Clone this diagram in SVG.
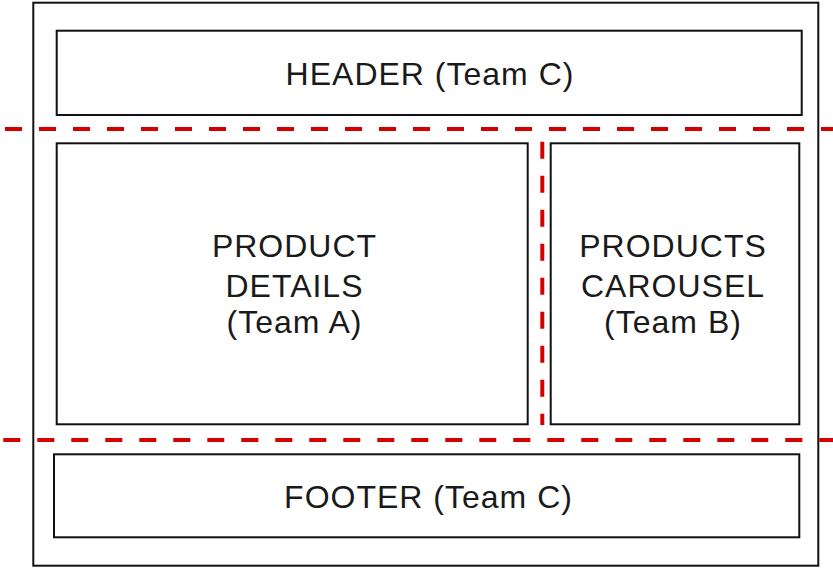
<svg xmlns="http://www.w3.org/2000/svg" width="833" height="570" viewBox="0 0 833 570">
  <style>
    .box { fill: #ffffff; stroke: #111111; stroke-width: 2; }
    .lbl { font-family: "Liberation Sans", Arial, Helvetica, sans-serif; font-size: 32px; fill: #1a1a1a; text-anchor: middle; letter-spacing: 1px; }
    .cut { fill: none; stroke: #d40000; stroke-width: 4; stroke-dasharray: 17 17; }
  </style>
  <rect width="833" height="570" fill="#ffffff"/>
  <g id="page">
    <rect class="box" x="33.3" y="2.7" width="785" height="563"/>
  </g>
  <g id="header">
    <rect class="box" x="56.7" y="30.7" width="745" height="84.3"/>
    <text class="lbl" x="430" y="84.5">HEADER (Team C)</text>
  </g>
  <g id="product-details">
    <rect class="box" x="56.7" y="143.3" width="471" height="281"/>
    <text class="lbl" x="294.5" y="257">PRODUCT</text>
    <text class="lbl" x="294.5" y="296.5">DETAILS</text>
    <text class="lbl" x="294.5" y="333">(Team A)</text>
  </g>
  <g id="products-carousel">
    <rect class="box" x="550.7" y="143.3" width="248.6" height="281"/>
    <text class="lbl" x="673" y="257">PRODUCTS</text>
    <text class="lbl" x="673" y="296.5">CAROUSEL</text>
    <text class="lbl" x="673" y="333">(Team B)</text>
  </g>
  <g id="footer">
    <rect class="box" x="54" y="454.3" width="745.3" height="83"/>
    <text class="lbl" x="428.5" y="507.5">FOOTER (Team C)</text>
  </g>
  <g id="boundaries">
    <line class="cut" x1="5" y1="129" x2="833" y2="129"/>
    <line class="cut" x1="3.3" y1="440" x2="833" y2="440"/>
    <line class="cut" x1="542.3" y1="141.7" x2="542.3" y2="425"/>
  </g>
</svg>
